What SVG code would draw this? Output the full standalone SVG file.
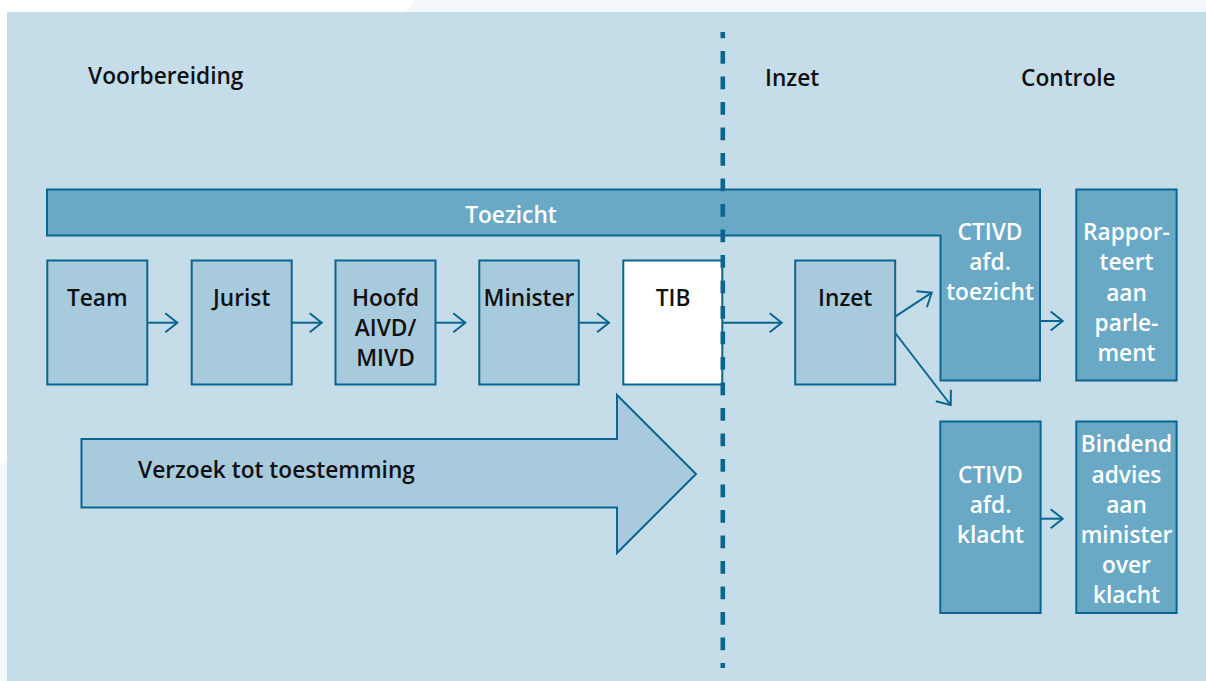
<svg xmlns="http://www.w3.org/2000/svg" width="1206" height="681" viewBox="0 0 1206 681">
<defs>
<style>
.t{font-family:"Open Sans","Liberation Sans",sans-serif;font-weight:600;font-size:22.7px;fill:#111;text-anchor:middle}
.w{fill:#fff}
.h{text-anchor:start}
.box{fill:#a8cadd;stroke:#0b6590;stroke-width:2}
.dark{fill:#6aa9c6;stroke:#0b6590;stroke-width:2}
.c{fill:none;stroke:#0b6590;stroke-width:2}
</style>
<marker id="ah" markerUnits="userSpaceOnUse" viewBox="-14 -12 16 24" refX="0" refY="0" markerWidth="16" markerHeight="24" orient="auto" overflow="visible">
<path d="M-12,-9.5 L0,0 L-12,9.5" fill="none" stroke="#0b6590" stroke-width="2"/>
</marker>
</defs>
<rect width="1206" height="681" fill="#f3f8fb"/>
<polygon points="0,0 415,0 0,467" fill="#ffffff"/>
<rect x="7" y="12" width="1199" height="669" fill="#c5dde9"/>

<g id="headers">
<text class="t h" x="88" y="84">Voorbereiding</text>
<text class="t h" x="765" y="86">Inzet</text>
<text class="t h" x="1021" y="86">Controle</text>
</g>

<g id="toezicht">
<polygon class="dark" points="47,189.5 1040,189.5 1040,380.5 940.5,380.5 940.5,235.5 47,235.5"/>
<text class="t w" x="511" y="223">Toezicht</text>
<text class="t w" x="990" y="240">CTIVD</text>
<text class="t w" x="990" y="270">afd.</text>
<text class="t w" x="990" y="300">toezicht</text>
</g>

<g id="verzoek">
<polygon class="box" points="81.5,439 617,439 617,395 696,474 617,553 617,507.5 81.5,507.5"/>
<text class="t h" x="138" y="478">Verzoek tot toestemming</text>
</g>

<g id="team">
<rect class="box" x="47.3" y="260.5" width="100" height="124"/>
<text class="t" x="97.3" y="306">Team</text>
</g>
<g id="jurist">
<rect class="box" x="191.7" y="260.5" width="100" height="124"/>
<text class="t" x="241.7" y="306">Jurist</text>
</g>
<g id="hoofd">
<rect class="box" x="335.5" y="260.5" width="100" height="124"/>
<text class="t" x="385.5" y="306">Hoofd</text>
<text class="t" x="385.5" y="336">AIVD/</text>
<text class="t" x="385.5" y="366">MIVD</text>
</g>
<g id="minister">
<rect class="box" x="479.3" y="260.5" width="99.5" height="124"/>
<text class="t" x="529" y="305.5">Minister</text>
</g>
<g id="tib">
<rect x="623.3" y="260.5" width="99" height="124" fill="#fff" stroke="#0b6590" stroke-width="2"/>
<text class="t" x="673" y="305.5">TIB</text>
</g>
<g id="inzet">
<rect class="box" x="795.2" y="260.5" width="100" height="124"/>
<text class="t" x="845.2" y="305.5">Inzet</text>
</g>
<g id="rapporteert">
<rect class="dark" x="1076.3" y="189.5" width="100.3" height="191"/>
<text class="t w" x="1126.5" y="240">Rappor-</text>
<text class="t w" x="1126.5" y="270">teert</text>
<text class="t w" x="1126.5" y="300.5">aan</text>
<text class="t w" x="1126.5" y="331">parle-</text>
<text class="t w" x="1126.5" y="361">ment</text>
</g>
<g id="klacht">
<rect class="dark" x="940.3" y="421.5" width="100.3" height="191.5"/>
<text class="t w" x="990.5" y="482.5">CTIVD</text>
<text class="t w" x="990.5" y="513">afd.</text>
<text class="t w" x="990.5" y="543">klacht</text>
</g>
<g id="bindend">
<rect class="dark" x="1076.3" y="421.5" width="100.3" height="191.5"/>
<text class="t w" x="1126.5" y="452">Bindend</text>
<text class="t w" x="1126.5" y="482.5">advies</text>
<text class="t w" x="1126.5" y="513">aan</text>
<text class="t w" x="1126.5" y="543">minister</text>
<text class="t w" x="1126.5" y="573">over</text>
<text class="t w" x="1126.5" y="603">klacht</text>
</g>

<g id="connectors">
<line class="c" x1="147.3" y1="322.7" x2="177.3" y2="322.7" marker-end="url(#ah)"/>
<line class="c" x1="291.7" y1="322.7" x2="321.7" y2="322.7" marker-end="url(#ah)"/>
<line class="c" x1="435.5" y1="322.7" x2="465.3" y2="322.7" marker-end="url(#ah)"/>
<line class="c" x1="578.8" y1="322.7" x2="609" y2="322.7" marker-end="url(#ah)"/>
<line class="c" x1="722.3" y1="322.7" x2="781.7" y2="322.7" marker-end="url(#ah)"/>
<line class="c" x1="895.2" y1="316.7" x2="931.7" y2="292.7" marker-end="url(#ah)"/>
<line class="c" x1="895.2" y1="333" x2="950.7" y2="405" marker-end="url(#ah)"/>
<line class="c" x1="1040.6" y1="321" x2="1062.7" y2="321" marker-end="url(#ah)"/>
<line class="c" x1="1040.6" y1="518.7" x2="1062.7" y2="518.7" marker-end="url(#ah)"/>
<line x1="722.8" y1="32" x2="722.8" y2="668" stroke="#0b6590" stroke-width="4.6" stroke-dasharray="12.7 12.8" stroke-dashoffset="6.5"/>
</g>
</svg>
